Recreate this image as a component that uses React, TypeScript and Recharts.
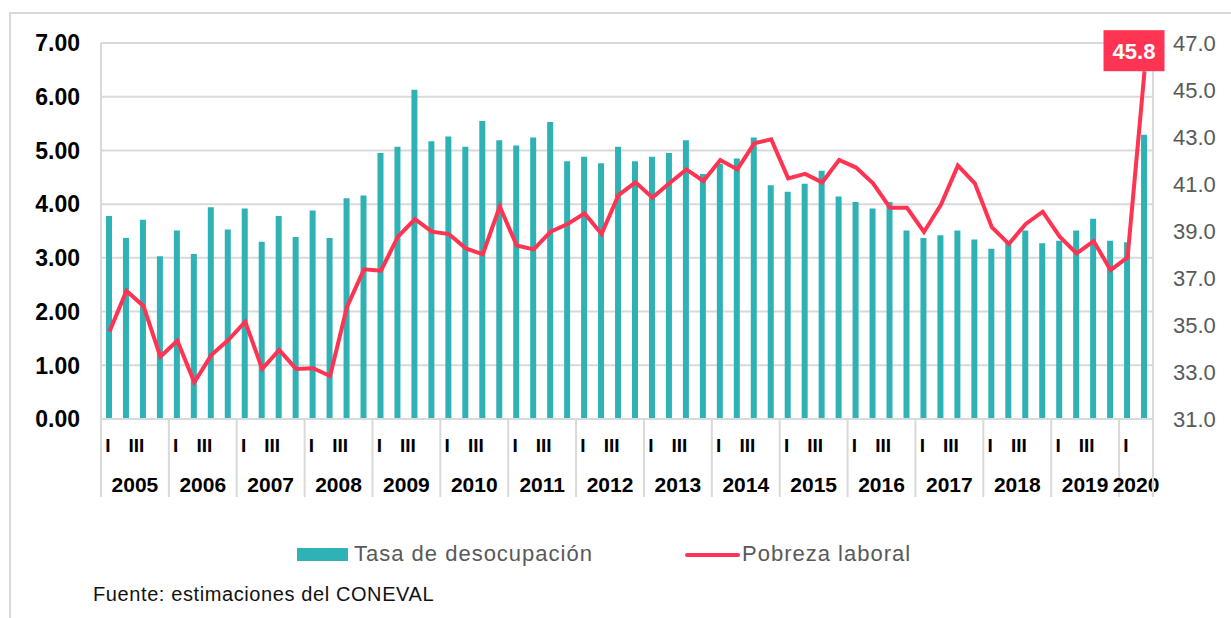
import React from 'react';
import { ComposedChart, Bar, Line, XAxis, YAxis, CartesianGrid, LabelList } from 'recharts';

// trimestres 2005-I a 2020 (dos registros en 2020)
const years = ['2005', '2006', '2007', '2008', '2009', '2010', '2011', '2012', '2013', '2014', '2015', '2016', '2017', '2018', '2019', '2020'];
const quarterNames = ['I', 'II', 'III', 'IV'];
const quartersIn2020 = 2;

// tasa de desocupación (%)
const desocupacion = [
  3.78, 3.37, 3.71, 3.03,
  3.51, 3.07, 3.94, 3.53,
  3.92, 3.30, 3.78, 3.39,
  3.88, 3.37, 4.11, 4.16,
  4.95, 5.07, 6.13, 5.17,
  5.26, 5.07, 5.55, 5.19,
  5.09, 5.24, 5.53, 4.80,
  4.88, 4.76, 5.07, 4.80,
  4.88, 4.95, 5.19, 4.56,
  4.75, 4.85, 5.24, 4.35,
  4.23, 4.38, 4.62, 4.14,
  4.04, 3.92, 4.04, 3.51,
  3.37, 3.42, 3.51, 3.34,
  3.17, 3.29, 3.51, 3.27,
  3.32, 3.51, 3.73, 3.32,
  3.29, 5.29,
];

// pobreza laboral (%)
const pobreza = [
  34.72, 36.45, 35.81, 33.65,
  34.33, 32.56, 33.72, 34.36,
  35.14, 33.13, 33.94, 33.13,
  33.16, 32.83, 35.78, 37.37,
  37.31, 38.76, 39.50, 38.97,
  38.87, 38.26, 38.01, 40.04,
  38.38, 38.22, 38.97, 39.30,
  39.75, 38.87, 40.53, 41.07,
  40.42, 41.03, 41.62, 41.13,
  42.02, 41.62, 42.73, 42.90,
  41.24, 41.43, 41.07, 42.02,
  41.70, 41.03, 39.99, 39.99,
  38.96, 40.11, 41.78, 41.03,
  39.16, 38.45, 39.30, 39.82,
  38.76, 38.05, 38.57, 37.34,
  37.88, 45.8,
];

const leftTicks = [0, 1, 2, 3, 4, 5, 6, 7];
const rightTicks = [31, 33, 35, 37, 39, 41, 43, 45, 47];

const TEAL = '#2eb2b5';
const RED = '#ff3352';
const GRID = '#d9d9d9';
const FONT = '"Liberation Sans", Arial, sans-serif';

const W = 1231;
const H = 618;
const PLOT_L = 101;
const PLOT_R = 1153;
const PLOT_B = 419;

const periods = years.flatMap(y =>
  (y === '2020' ? quarterNames.slice(0, quartersIn2020) : quarterNames).map(q => ({ year: y, q }))
);
const data = periods.map((p, i) => ({
  key: `${p.year}-${p.q}`,
  year: p.year,
  q: p.q,
  desocupacion: desocupacion[i],
  pobreza: pobreza[i],
}));
const band = (PLOT_R - PLOT_L) / data.length;

function XTick({ x, payload }: any) {
  const i = data.findIndex(r => r.key === payload.value);
  if (i < 0) return null;
  const d = data[i];
  const groupSize = data.filter(r => r.year === d.year).length;
  const left = x - band / 2;
  return (
    <g fontFamily={FONT} fontWeight="bold" fill="#000">
      {(d.q === 'I' || d.q === 'III') && (
        <text x={x + 1} y={PLOT_B + 33} textAnchor="end" fontSize={19}>{d.q}</text>
      )}
      {d.q === 'I' && (
        <>
          <line x1={left} x2={left} y1={PLOT_B} y2={PLOT_B + 78} stroke={GRID} strokeWidth={2} />
          <text x={left + (groupSize * band) / 2} y={PLOT_B + 73} textAnchor="middle" fontSize={21}>{d.year}</text>
        </>
      )}
      {i === data.length - 1 && (
        <line x1={x + band / 2} x2={x + band / 2} y1={PLOT_B} y2={PLOT_B + 78} stroke={GRID} strokeWidth={2} />
      )}
    </g>
  );
}

function LeftTick({ y, payload }: any) {
  return (
    <text x={80} y={y} dy="0.36em" textAnchor="end" fontFamily={FONT} fontWeight="bold" fontSize={23} fill="#000">
      {Number(payload.value).toFixed(2)}
    </text>
  );
}

function RightTick({ y, payload }: any) {
  return (
    <text x={1173} y={y} dy="0.36em" textAnchor="start" fontFamily={FONT} fontSize={22} fill="#595959">
      {Number(payload.value).toFixed(1)}
    </text>
  );
}

function PeakLabel(props: any) {
  const { x, y, value, index } = props;
  if (index !== data.length - 1) return null;
  return (
    <g>
      <rect x={x - 41} y={y - 41} width={61} height={41} fill={RED} />
      <text x={x - 10.5} y={y - 20.5} dy="0.36em" textAnchor="middle" fontFamily={FONT} fontWeight="bold" fontSize={22} fill="#fff">
        {Number(value).toFixed(1)}
      </text>
    </g>
  );
}

export default function App() {
  return (
    <div style={{ position: 'absolute', left: 0, top: 0, width: W, height: H, background: '#fff', overflow: 'hidden', fontFamily: FONT }}>
      <ComposedChart width={W} height={H} data={data} margin={{ top: 43, right: 0, bottom: 119, left: 0 }}>
        <CartesianGrid yAxisId="left" vertical={false} stroke={GRID} strokeWidth={2} />
        <XAxis dataKey="key" interval={0} height={80} tickLine={false} axisLine={{ stroke: GRID, strokeWidth: 2 }} tick={<XTick />} />
        <YAxis yAxisId="left" width={101} domain={[0, 7]} ticks={leftTicks} tickLine={false} axisLine={{ stroke: GRID, strokeWidth: 2 }} tick={<LeftTick />} />
        <YAxis yAxisId="right" orientation="right" width={78} domain={[31, 47]} ticks={rightTicks} tickLine={false} axisLine={{ stroke: GRID, strokeWidth: 2 }} tick={<RightTick />} />
        <Bar yAxisId="left" dataKey="desocupacion" fill={TEAL} barSize={6} isAnimationActive={false} />
        <Line yAxisId="right" dataKey="pobreza" type="linear" stroke={RED} strokeWidth={4} dot={false} isAnimationActive={false}>
          <LabelList dataKey="pobreza" content={(p: any) => <PeakLabel {...p} />} />
        </Line>
      </ComposedChart>

      {/* marco exterior */}
      <div style={{ position: 'absolute', left: 10, top: 12, right: 0, height: 2, background: GRID }} />
      <div style={{ position: 'absolute', left: 9, top: 12, bottom: 0, width: 2, background: GRID }} />

      {/* leyenda */}
      <div style={{ position: 'absolute', left: 297, top: 548, width: 51, height: 13, background: TEAL }} />
      <div style={{ position: 'absolute', left: 354, top: 541, fontSize: 22, lineHeight: '26px', color: '#595959', letterSpacing: 1 }}>Tasa de desocupación</div>
      <div style={{ position: 'absolute', left: 685, top: 553, width: 55, height: 4, borderRadius: 2, background: RED }} />
      <div style={{ position: 'absolute', left: 742, top: 541, fontSize: 22, lineHeight: '26px', color: '#595959', letterSpacing: 1 }}>Pobreza laboral</div>

      <div style={{ position: 'absolute', left: 93, top: 582, fontSize: 20, lineHeight: '24px', color: '#111', letterSpacing: 0.6 }}>Fuente: estimaciones del CONEVAL</div>
    </div>
  );
}
